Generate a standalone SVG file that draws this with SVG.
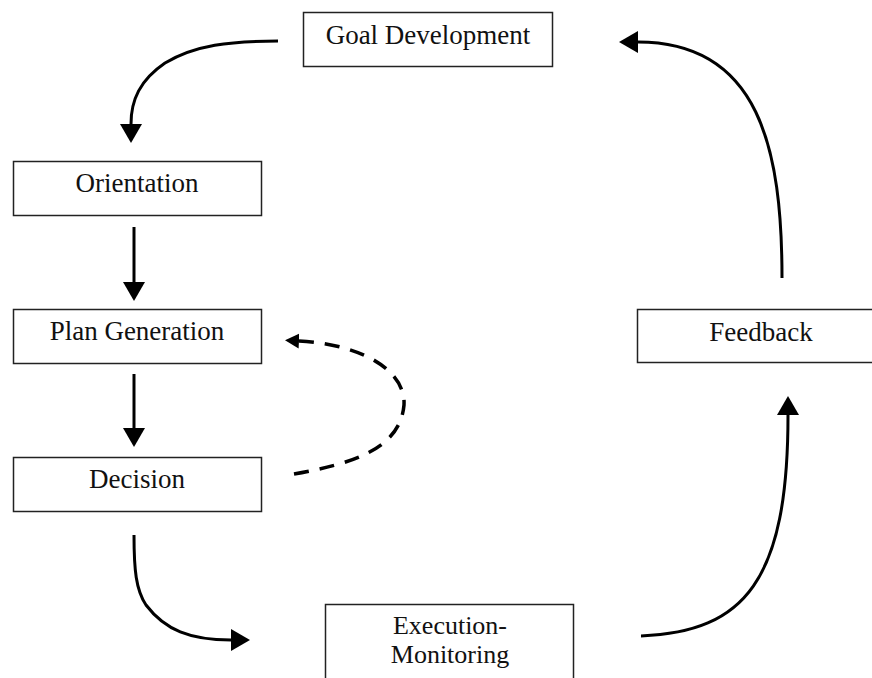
<svg xmlns="http://www.w3.org/2000/svg" width="872" height="678" viewBox="0 0 872 678">
<style>
.box{fill:#fff;stroke:#222;stroke-width:1.5}
.lbl{font-family:"Liberation Serif","Times New Roman",serif;font-size:27px;fill:#111;text-anchor:middle}
.lbl2{font-family:"Liberation Serif","Times New Roman",serif;font-size:26px;fill:#111;text-anchor:middle}
.con{fill:none;stroke:#000;stroke-width:3}
.dash{fill:none;stroke:#000;stroke-width:3.5;stroke-dasharray:15 11}
</style>
<defs>
<marker id="ah" markerUnits="userSpaceOnUse" markerWidth="20" markerHeight="24" viewBox="0 -12 20 24" refX="0" refY="0" orient="auto">
<path d="M0,-11 L19,0 L0,11 Z" fill="#000"/>
</marker>
<marker id="ahs" markerUnits="userSpaceOnUse" markerWidth="16" markerHeight="16" viewBox="0 -8 16 16" refX="0" refY="0" orient="auto">
<path d="M0,-7.5 L14,0 L0,7.5 Z" fill="#000"/>
</marker>
</defs>
<rect width="872" height="678" fill="#fff"/>
<g id="connectors">
<path class="con" d="M278,41 C230,41 195,45 165,63 C140,80 131,100 131,124" marker-end="url(#ah)"/>
<path class="con" d="M134,227 L134,282" marker-end="url(#ah)"/>
<path class="con" d="M134,374 L134,428" marker-end="url(#ah)"/>
<path class="dash" d="M294,474 C350,464 400,450 404,405 C406,375 370,345 299,341" marker-end="url(#ahs)"/>
<path class="con" d="M134,535 C134,570 136,590 146,605 C165,630 190,640 231,640" marker-end="url(#ah)"/>
<path class="con" d="M641,636 C745,632 788,580 788,415" marker-end="url(#ah)"/>
<path class="con" d="M782,278 C782,150 760,42 638,42" marker-end="url(#ah)"/>
</g>
<g id="goal"><rect class="box" x="303.5" y="12.5" width="249" height="54"/><text class="lbl" x="428" y="44">Goal Development</text></g>
<g id="orientation"><rect class="box" x="13.5" y="161.5" width="248" height="54"/><text class="lbl" x="137" y="192">Orientation</text></g>
<g id="plan"><rect class="box" x="13.5" y="309.5" width="248" height="54"/><text class="lbl" x="137" y="340">Plan Generation</text></g>
<g id="decision"><rect class="box" x="13.5" y="457.5" width="248" height="54"/><text class="lbl" x="137" y="488">Decision</text></g>
<g id="execution"><rect class="box" x="325.5" y="604.5" width="248" height="90"/><text class="lbl2" x="450" y="634">Execution-</text><text class="lbl2" x="450" y="663">Monitoring</text></g>
<g id="feedback"><rect class="box" x="637.5" y="309.5" width="248" height="53"/><text class="lbl" x="761" y="341">Feedback</text></g>
</svg>
